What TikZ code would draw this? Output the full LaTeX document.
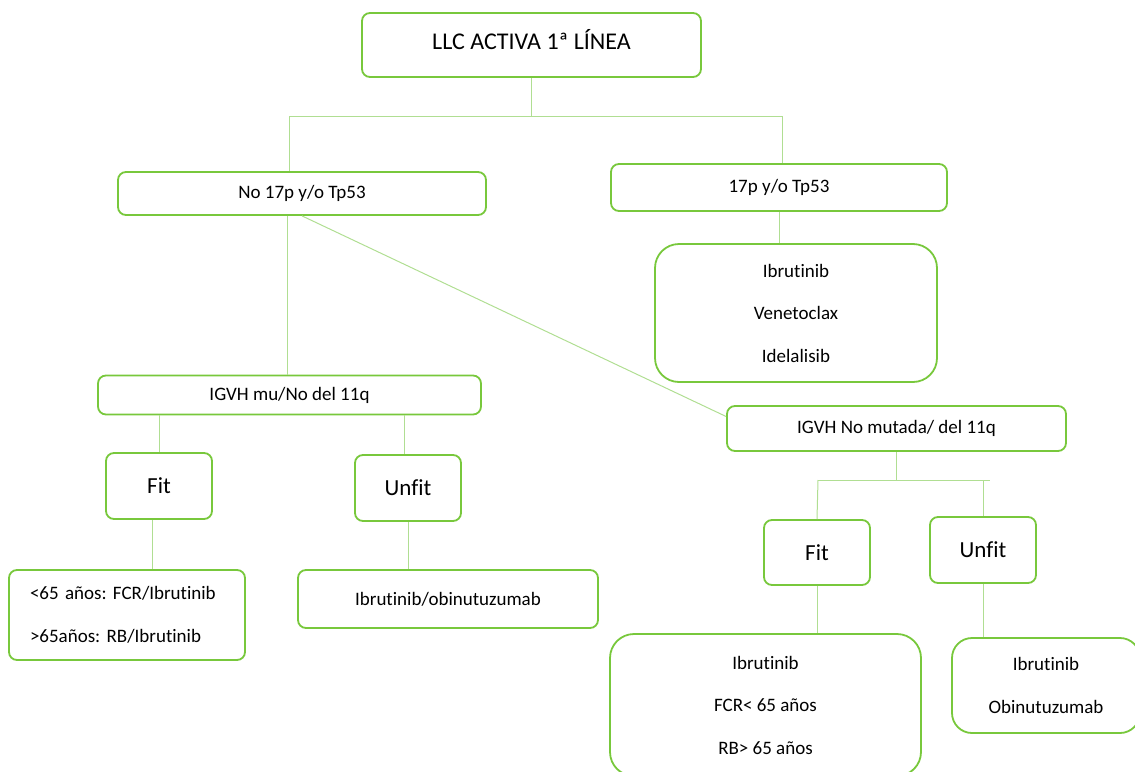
\documentclass[tikz,border=0pt]{standalone}
\usepackage{fontspec}
\setmainfont{Carlito}[Ligatures=NoCommon]
\frenchspacing
\usetikzlibrary{positioning}
\tikzset{>=latex}
\definecolor{g1}{HTML}{78C83C}
\definecolor{g2}{HTML}{B0DE92}
\tikzstyle{box}=[draw=g1,line width=1.8pt,rounded corners=8pt,fill=white,inner sep=0pt,font=\fontsize{19pt}{22pt}\selectfont]
\tikzstyle{big box}=[box,rounded corners=24pt,align=center,font=\fontsize{19pt}{42.5pt}\selectfont]
\tikzstyle{fit box}=[box,minimum width=106pt,minimum height=66pt,font=\fontsize{23pt}{26pt}\selectfont]
\tikzstyle{link}=[g2,line width=1pt]

\begin{document}
\begin{tikzpicture}[x=1pt,y=-1pt]
  \useasboundingbox (0,0) rectangle (1135,771);
  \clip (0,0) rectangle (1135,771);
  % first level
  \node[box,minimum width=339pt,minimum height=64pt,text depth=12pt,font=\fontsize{24pt}{28pt}\selectfont] (top) at (531.5,45) {LLC ACTIVA 1ª LÍNEA};
  \node[box,minimum width=368pt,minimum height=43pt] (nol) at (302,193.5) {No 17p y/o Tp53};
  \node[box,minimum width=336pt,minimum height=47pt] (pos) at (779,187.5) {17p y/o Tp53};
  \node[big box,minimum width=282pt,minimum height=138pt] (drugs) at (796,313) {Ibrutinib\\Venetoclax\\Idelalisib};
  % IGVH
  \node[box,minimum width=383pt,minimum height=39pt] (mu) at (289.5,395) {IGVH mu/No del 11q};
  \node[box,minimum width=339pt,minimum height=45pt] (nm) at (896.5,428.5) {IGVH No mutada/ del 11q};
  \node[fit box] (fitA) at (159,486) {Fit};
  \node[fit box] (unfitA) at (408,488) {Unfit};
  \node[fit box,minimum height=65pt] (fitB) at (817,552.5) {Fit};
  \node[fit box] (unfitB) at (983,550) {Unfit};
  % treatments
  \node[box,minimum width=236pt,minimum height=90pt,text width=194pt,align=left,font=\fontsize{19pt}{43pt}\selectfont] (old) at (127,615) {<65 años: FCR/Ibrutinib\\>65años: RB/Ibrutinib};
  \node[box,minimum width=300pt,minimum height=58pt] (ibo) at (448,599) {Ibrutinib/obinutuzumab};
  \node[big box,minimum width=311pt,minimum height=142pt] (fcr) at (765.5,705) {Ibrutinib\\FCR< 65 años\\RB> 65 años};
  \node[big box,rounded corners=20pt,minimum width=188pt,minimum height=95pt] (obi) at (1046,685.5) {Ibrutinib\\Obinutuzumab};

  % links
  \coordinate (jl) at (289,116);
  \coordinate (jr) at (782,116);
  \draw[link] (top.south) -- (top.south |- jl);
  \draw[link] (jl) -- (jr);
  \draw[link] (jl) -- (jl |- nol.north);
  \draw[link] (jr) -- (jr |- pos.north);
  \draw[link] (pos.south) -- (pos.south |- drugs.north);
  \coordinate (jm) at (287,300);
  \draw[link] (jm |- nol.south) -- (jm |- mu.north);
  \draw[link] (nol.south) -- ([yshift=12pt]nm.west);
  \draw[link] (fitA.north |- mu.south) -- (fitA.north);
  \draw[link] ([xshift=-4pt]unfitA.north |- mu.south) -- ([xshift=-4pt]unfitA.north);
  \coordinate (jf) at (152,540);
  \draw[link] (jf |- fitA.south) -- (jf |- old.north);
  \draw[link] (unfitA.south) -- (unfitA.south |- ibo.north);
  \coordinate (ja) at (818,480);
  \coordinate (jb) at (990,480);
  \draw[link] (nm.south) -- (nm.south |- ja);
  \draw[link] (ja) -- (jb);
  \draw[link] (ja) -- (fitB.north);
  \draw[link] (unfitB.north |- ja) -- (unfitB.north);
  \draw[link] (fitB.south) -- (fitB.south |- fcr.north);
  \draw[link] (unfitB.south) -- (unfitB.south |- obi.north);
\end{tikzpicture}
\end{document}
